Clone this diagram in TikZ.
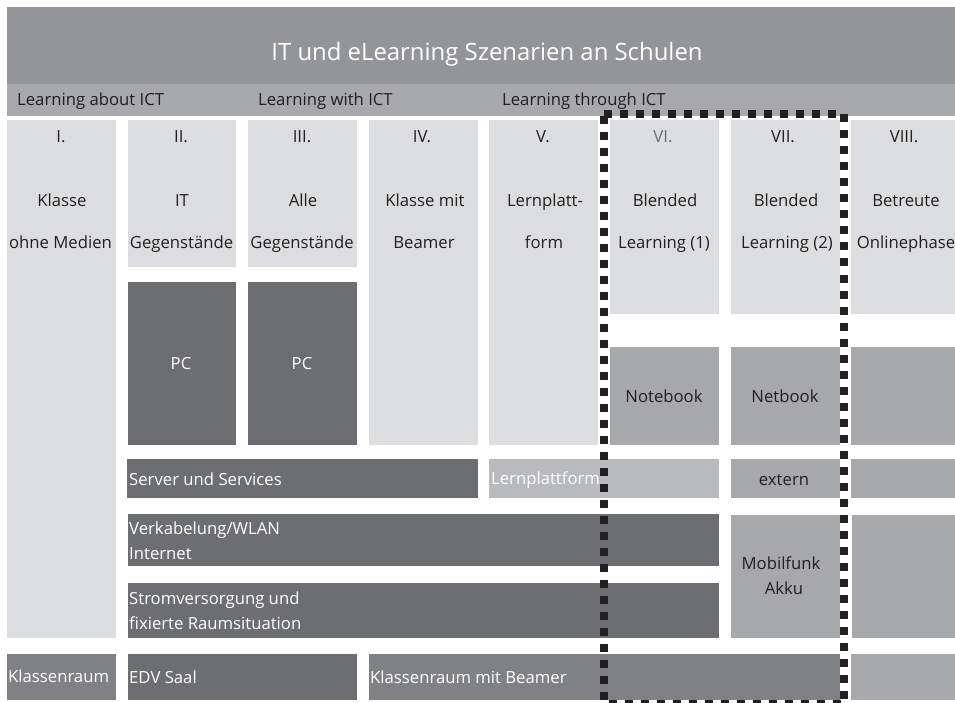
\documentclass[tikz,border=0pt]{standalone}
\usepackage{fontspec}
\setmainfont{Open Sans}
\definecolor{banner}{HTML}{939598}
\definecolor{subbanner}{HTML}{A7A9AC}
\definecolor{light}{HTML}{DCDDDE}
\definecolor{dark}{HTML}{6D6E71}
\definecolor{mid}{HTML}{A7A8AB}
\definecolor{pale}{HTML}{B9BABE}
\definecolor{room}{HTML}{808184}
\definecolor{ink}{HTML}{231F20}
\tikzset{
  darktxt/.style={font=\fontsize{16.7}{20}\selectfont,text=ink,inner sep=0pt,anchor=base},
  whitetxt/.style={darktxt,text=white},
  leftdark/.style={darktxt,anchor=base west},
  leftwhite/.style={whitetxt,anchor=base west},
  frameline/.style={draw=ink,line width=8pt,dash pattern=on 8pt off 8pt}
}
\newcommand{\panel}[5]{\fill[#1] (#2,#3) rectangle (#4,#5);}
\begin{document}
\begin{tikzpicture}[x=1pt,y=-1pt]
\useasboundingbox (0,0) rectangle (955,703);
\clip (0,0) rectangle (955,703);
% banners
\panel{banner}{7}{7}{955}{84}
\panel{subbanner}{7}{84}{955}{116}
% upper columns
\panel{light}{7}{120}{116}{638}
\panel{light}{128}{120}{236}{267}
\panel{light}{248}{120}{357}{267}
\panel{light}{369}{120}{478}{445}
\panel{light}{489}{120}{598}{445}
\panel{light}{610}{120}{719}{314}
\panel{light}{731}{120}{840}{314}
\panel{light}{851}{120}{955}{314}
% devices
\panel{dark}{128}{282}{236}{445}
\panel{dark}{248}{282}{357}{445}
\panel{mid}{610}{347}{719}{445}
\panel{mid}{731}{347}{840}{445}
\panel{mid}{851}{347}{955}{445}
% services
\panel{dark}{127}{459}{478}{498}
\panel{pale}{489}{459}{719}{498}
\panel{mid}{731}{459}{840}{498}
\panel{mid}{851}{459}{955}{498}
% infrastructure
\panel{dark}{128}{514}{719}{566}
\panel{dark}{128}{583}{719}{638}
\panel{mid}{731}{515}{840}{638}
\panel{mid}{852}{515}{955}{638}
% rooms
\panel{room}{7}{654}{116}{700}
\panel{dark}{128}{654}{357}{700}
\panel{room}{369}{654}{840}{700}
\panel{mid}{851}{654}{955}{700}
% title
\node[whitetxt,font=\fontsize{23.9}{28}\selectfont] (title) at (487,61) {IT und eLearning Szenarien an Schulen};
\node[leftdark] (about) at (17,106) {Learning about ICT};
\node[leftdark] (with) at (258,106) {Learning with ICT};
\node[leftdark] (through) at (502,106) {Learning through ICT};
% column headings
\node[darktxt] (n1) at (61,143) {I.};
\node[darktxt] (n2) at (181,143) {II.};
\node[darktxt] (n3) at (302,143) {III.};
\node[darktxt] (n4) at (422,143) {IV.};
\node[darktxt] (n5) at (543,143) {V.};
\node[darktxt,text=dark] (n6) at (663,143) {VI.};
\node[darktxt] (n7) at (783,143) {VII.};
\node[darktxt] (n8) at (904,143) {VIII.};
\node[darktxt] (a1) at (62,207) {Klasse};
\node[darktxt] (b1) at (60.5,248) {ohne Medien};
\node[darktxt] (a2) at (182,207) {IT};
\node[darktxt] (b2) at (181.5,248) {Gegenstände};
\node[darktxt] (a3) at (303,207) {Alle};
\node[darktxt] (b3) at (302,248) {Gegenstände};
\node[darktxt] (a4) at (425,207) {Klasse mit};
\node[darktxt] (b4) at (424,248) {Beamer};
\node[darktxt] (a5) at (545,207) {Lernplatt-};
\node[darktxt] (b5) at (544,248) {form};
\node[darktxt] (a6) at (665,207) {Blended};
\node[darktxt] (b6) at (664,248) {Learning (1)};
\node[darktxt] (a7) at (786,207) {Blended};
\node[darktxt] (b7) at (787,248) {Learning (2)};
\node[darktxt] (a8) at (906,207) {Betreute};
\node[darktxt] (b8) at (906,248) {Onlinephase};
% devices text
\node[whitetxt] (pc1) at (181,369) {PC};
\node[whitetxt] (pc2) at (302,369) {PC};
\node[darktxt] (notebook) at (664,402) {Notebook};
\node[darktxt] (netbook) at (785,402) {Netbook};
\node[leftwhite] (server) at (129,485) {Server und Services};
\node[leftwhite] (lern) at (491,484) {Lernplattform};
\node[darktxt] (extern) at (784,485) {extern};
\node[leftwhite] (kab) at (129,534) {Verkabelung/WLAN};
\node[leftwhite] (net) at (129,559) {Internet};
\node[leftwhite] (strom) at (129,604) {Stromversorgung und};
\node[leftwhite] (raum) at (129,629) {fixierte Raumsituation};
\node[darktxt] (funk) at (781,569) {Mobilfunk};
\node[darktxt] (akku) at (784,594) {Akku};
\node[leftwhite] (kl) at (8,682) {Klassenraum};
\node[leftwhite] (edv) at (129,683) {EDV Saal};
\node[leftwhite] (klb) at (370,683) {Klassenraum mit Beamer};
% dotted frame
\coordinate (tl) at (604,113.7);
\coordinate (tr) at (838,113.7);
\coordinate (rt) at (844,114.5);
\coordinate (rb) at (844,706);
\coordinate (lt) at (604,116);
\coordinate (lb) at (604,706);
\coordinate (bl) at (608.5,704);
\coordinate (br) at (842,704);
\draw[frameline] (tl) -- (tr);
\draw[frameline] (rt) -- (rb);
\draw[frameline] (lt) -- (lb);
\draw[frameline] (bl) -- (br);
\end{tikzpicture}
\end{document}
